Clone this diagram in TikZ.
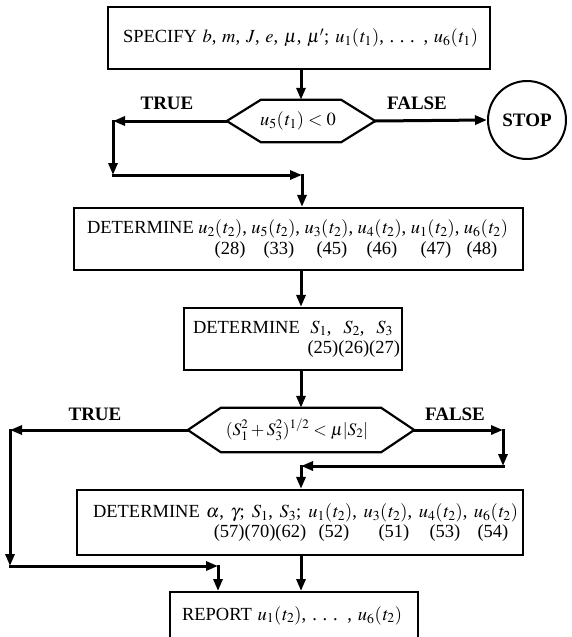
\documentclass[tikz,border=0pt]{standalone}
\usepackage{mathptmx}
\usepackage{fontspec}
\setmainfont{Liberation Serif}
\usetikzlibrary{arrows.meta,calc}
\newcommand{\ut}[2]{u_{#1}(\mkern1mu t_{#2})}
\newcommand{\numat}[2]{\rlap{\hspace*{#1}\makebox[0pt]{#2}}}
\begin{document}
\begin{tikzpicture}[x=1pt,y=-1pt,
  txt/.style={font=\fontsize{18.5}{20.5}\selectfont},
  box/.style={draw, line width=2.2pt, inner sep=0pt, txt, align=left},
  hexnode/.style={inner sep=0pt, txt},
  hexline/.style={line width=2.2pt, line join=miter},
  lab/.style={font=\fontsize{19}{22}\selectfont\bfseries, inner sep=0pt},
  conn/.style={line width=3pt, line cap=rect, -{Triangle[length=12pt,width=9pt]}}
]
\useasboundingbox (0,0) rectangle (571,637);
\clip (0,0) rectangle (571,637);

% boxes
\node[box, minimum width=382pt, minimum height=62pt] (B1) at (299,38)
  {\makebox[382pt][l]{\hspace*{15pt}\makebox[355pt][s]{SPECIFY $b$, $m$, $J$, $e$, $\mu$, $\mu'$; $\ut{1}{1}$, .~.~. , $\ut{6}{1}$}}};

\node[hexnode, minimum width=80pt, minimum height=42pt] (D1) at (301,121) {\hspace*{-6pt}$\ut{5}{1} < 0$};
\draw[hexline] (D1.north west) -- (D1.north east) -- ([xshift=34pt]D1.east)
  -- (D1.south east) -- (D1.south west) -- ([xshift=-34pt]D1.west) -- cycle;
\coordinate (D1L) at ([xshift=-34pt]D1.west);
\coordinate (D1R) at ([xshift=34pt]D1.east);

\node[draw, circle, line width=2pt, minimum size=78pt, inner sep=0pt,
  font=\fontsize{19}{22}\selectfont\bfseries] (STOP) at (527,120) {STOP};

\node[lab] (T1) at (167,103) {TRUE};
\node[lab] (F1) at (417,103) {FALSE};

\node[box, minimum width=449pt, minimum height=62pt] (B2) at (298.5,239)
  {\makebox[449pt][l]{\hspace*{13pt}\makebox[421pt][s]{DETERMINE $\ut{2}{2}$, $\ut{5}{2}$, $\ut{3}{2}$, $\ut{4}{2}$, $\ut{1}{2}$, $\ut{6}{2}$}}\\
   \makebox[449pt][l]{\numat{156pt}{(28)}\numat{205pt}{(33)}\numat{258pt}{(45)}\numat{308pt}{(46)}\numat{362pt}{(47)}\numat{408pt}{(48)}}};

\node[box, minimum width=218pt, minimum height=62pt] (B3) at (293,339)
  {\makebox[218pt][l]{\hspace*{9pt}\makebox[200pt][s]{DETERMINE $S_1$, $S_2$, $S_3$}}\\
   \makebox[218pt][r]{(25)(26)(27)\hspace*{2pt}}};

\node[hexnode, minimum width=160pt, minimum height=44pt, font=\fontsize{17.5}{20}\selectfont] (D2) at (301,430)
  {\hspace*{-8pt}$(S_1^2 + S_3^2)^{1/2} < \mu|S_2|$};
\draw[hexline] (D2.north west) -- (D2.north east) -- ([xshift=33pt]D2.east)
  -- (D2.south east) -- (D2.south west) -- ([xshift=-33pt]D2.west) -- cycle;
\coordinate (D2L) at ([xshift=-33pt]D2.west);
\coordinate (D2R) at ([xshift=33pt]D2.east);

\node[lab] (T2) at (95,414) {TRUE};
\node[lab] (F2) at (455,414) {FALSE};

\node[box, minimum width=446pt, minimum height=65pt] (B4) at (300,522.5)
  {\makebox[446pt][l]{\hspace*{16pt}\makebox[425pt][s]{DETERMINE $\alpha$, $\gamma$; $S_1$, $S_3$; $\ut{1}{2}$, $\ut{3}{2}$, $\ut{4}{2}$, $\ut{6}{2}$}}\\
   \makebox[446pt][l]{\numat{183pt}{(57)(70)(62)}\numat{257pt}{(52)}\numat{317pt}{(51)}\numat{368pt}{(53)}\numat{416pt}{(54)}}};

\node[box, anchor=north, minimum width=248pt, inner ysep=14pt, text height=14pt, text depth=50pt] (B5) at (294,591)
  {\makebox[248pt][l]{\hspace*{12pt}\makebox[220pt][s]{REPORT $\ut{1}{2}$, .~.~. , $\ut{6}{2}$}}};

% connectors
\coordinate (c1) at (113,121);
\coordinate (c2) at (113,175);
\coordinate (c3) at (302,175);
\coordinate (e1) at (10,430);
\coordinate (e2) at (10,566);
\coordinate (e3) at (218,566);
\coordinate (f1) at (503,430);
\coordinate (f2) at (503,466);
\coordinate (f3) at (301,466);

\draw[conn] (D1.north |- B1.south) -- (D1.north);
\draw[conn] (D1R) -- (STOP.west);
\draw[conn] (D1L) -- (c1);
\draw[conn] (c1) -- (c2);
\draw[conn] (c2) -- (c3);
\draw[conn] (c3) -- (c3 |- B2.north);
\draw[conn] (B2.south -| D1.north) -- (B3.north -| D1.north);
\draw[conn] (B3.south -| D2.north) -- (D2.north);
\draw[conn] (D2L) -- (e1);
\draw[conn] (e1) -- (e2);
\draw[conn] (e2) -- (e3);
\draw[conn] (e3) -- (e3 |- B5.north);
\draw[conn] (D2R) -- (f1);
\draw[conn] (f1) -- (f2);
\draw[conn] (f2) -- (f3);
\draw[conn] (f3) -- (f3 |- B4.north);
\draw[conn] (B4.south -| D2.north) -- (B5.north -| D2.north);
\end{tikzpicture}
\end{document}
